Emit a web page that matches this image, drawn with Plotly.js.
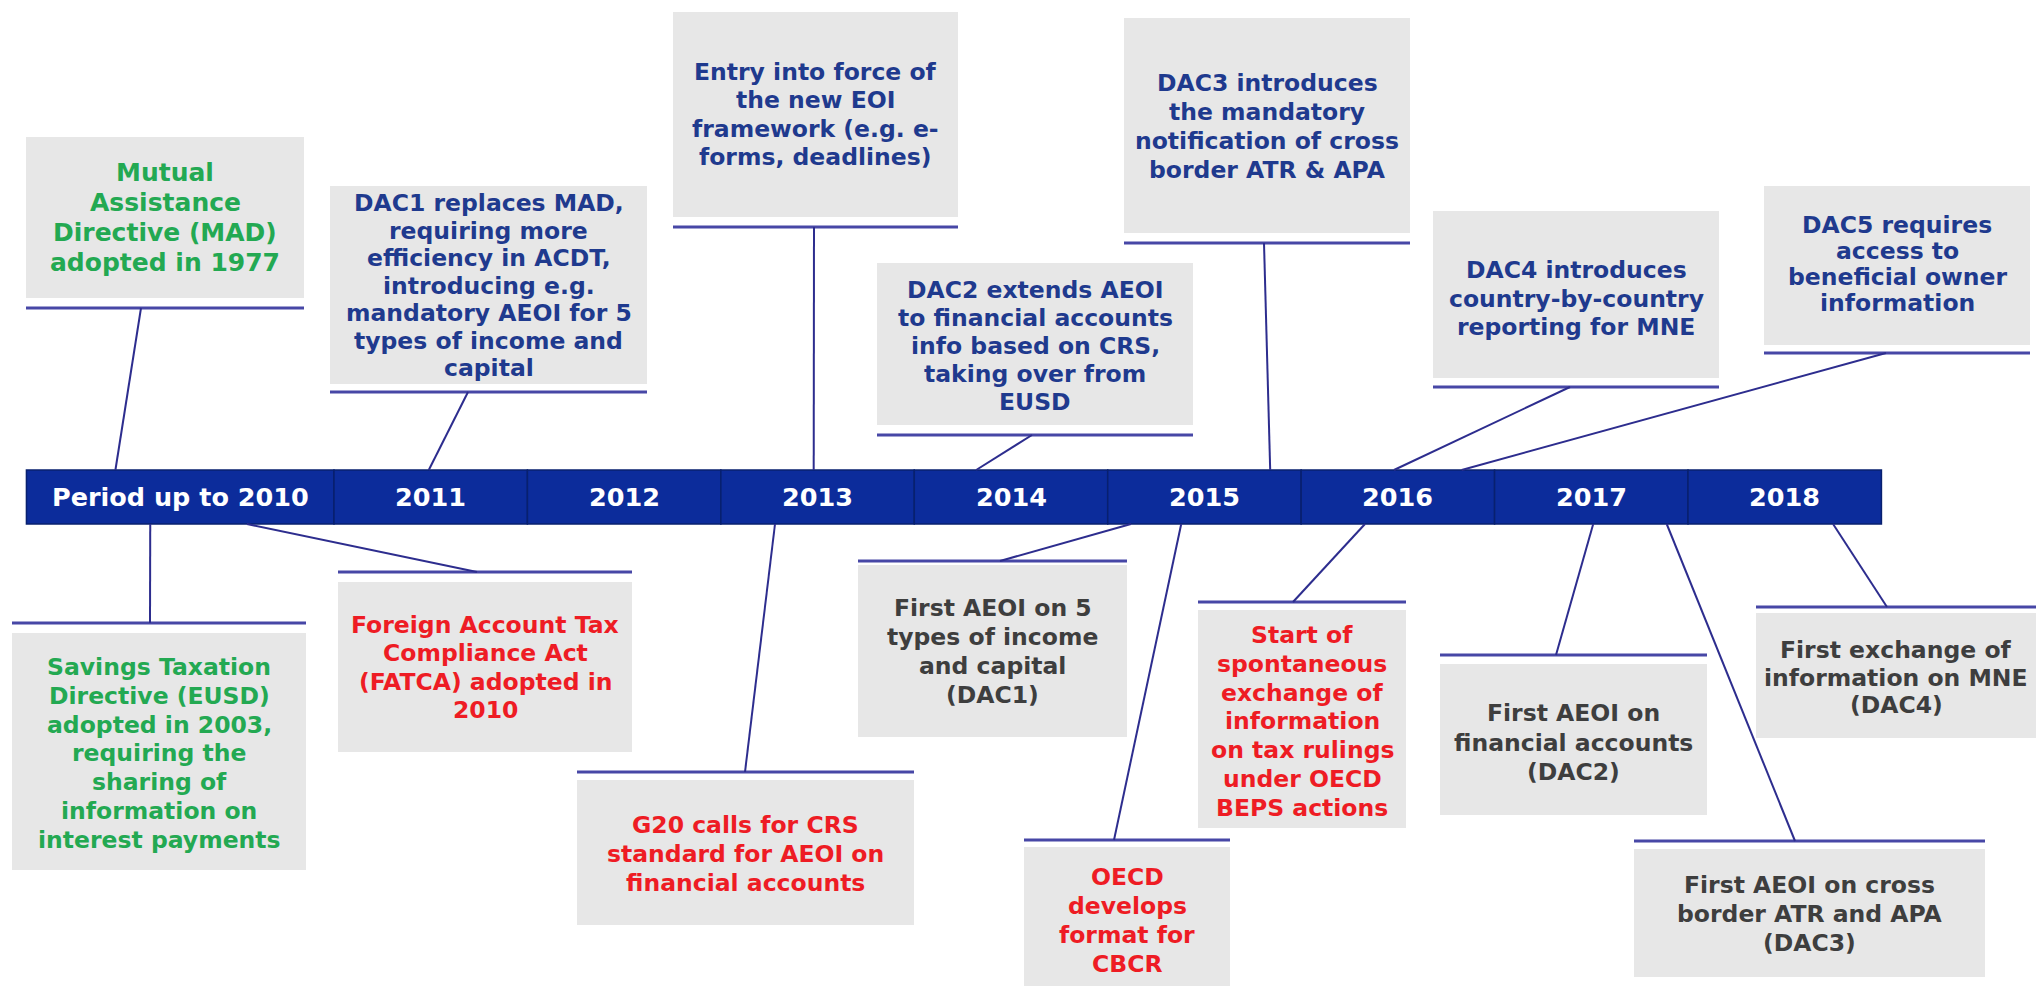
<!DOCTYPE html>
<html>
<head>
<meta charset="utf-8">
<script src="https://cdn.plot.ly/plotly-3.0.1.min.js"></script>
<style>
html,body{margin:0;padding:0;background:#fff;overflow:hidden}
#chart{width:2036px;height:986px}
</style>
</head>
<body>
<div id="chart"></div>
<script>
// ------------------------------------------------------------------
// DATA
// ------------------------------------------------------------------
// Timeline segments (in years)
const periodLabels = ['Period up to 2010','2011','2012','2013','2014','2015','2016','2017','2018'];
const periodStart  = [2008.91, 2010.5, 2011.5, 2012.5, 2013.5, 2014.5, 2015.5, 2016.5, 2017.5];
const periodEnd    = [2010.5, 2011.5, 2012.5, 2013.5, 2014.5, 2015.5, 2016.5, 2017.5, 2018.5];

// Events (text lines separated by \n)
const eventText = [
  'Mutual\nAssistance\nDirective (MAD)\nadopted in 1977',
  'DAC1 replaces MAD,\nrequiring more\nefficiency in ACDT,\nintroducing e.g.\nmandatory AEOI for 5\ntypes of income and\ncapital',
  'Entry into force of\nthe new EOI\nframework (e.g. e-\nforms, deadlines)',
  'DAC2 extends AEOI\nto financial accounts\ninfo based on CRS,\ntaking over from\nEUSD',
  'DAC3 introduces\nthe mandatory\nnotification of cross\nborder ATR & APA',
  'DAC4 introduces\ncountry-by-country\nreporting for MNE',
  'DAC5 requires\naccess to\nbeneficial owner\ninformation',
  'Savings Taxation\nDirective (EUSD)\nadopted in 2003,\nrequiring the\nsharing of\ninformation on\ninterest payments',
  'Foreign Account Tax\nCompliance Act\n(FATCA) adopted in\n2010',
  'G20 calls for CRS\nstandard for AEOI on\nfinancial accounts',
  'First AEOI on 5\ntypes of income\nand capital\n(DAC1)',
  'OECD\ndevelops\nformat for\nCBCR',
  'Start of\nspontaneous\nexchange of\ninformation\non tax rulings\nunder OECD\nBEPS actions',
  'First AEOI on\nfinancial accounts\n(DAC2)',
  'First AEOI on cross\nborder ATR and APA\n(DAC3)',
  'First exchange of\ninformation on MNE\n(DAC4)'
];
// Point on the timeline each event is attached to (year units)
const eventDate  = [2009.37, 2010.99, 2012.98, 2013.82, 2015.34, 2015.98, 2016.33,
                    2009.55, 2010.05, 2012.78, 2014.62, 2014.88, 2015.83, 2017.01, 2017.39, 2018.25];
// Kind of event (drives the text colour)
const eventKind  = ['early','dac','dac','dac','dac','dac','dac',
                    'early','intl','intl','implement','intl','intl','implement','implement','implement'];

// ------------------------------------------------------------------
// LAYOUT / STYLE (pixel geometry of the call-out boxes)
// ------------------------------------------------------------------
const W = 2036, H = 986;
const X_RANGE = [2008.7733, 2019.2991];
const BAR_TOP = 470, BAR_H = 54;
const kindColor = {early:'#23a952', dac:'#1f3a8e', intl:'#ee1c24', implement:'#3e3e3e'};
// [x0, x1, y0, y1, ruleY, anchorX, firstLineY, lineStep, fontSize, side]
const boxGeom = [
  [26, 304, 137, 298, 308, 141, 172, 30, 25, 'up'],
  [330, 647, 186, 384, 392, 468, 203, 27.5, 23.5, 'up'],
  [673, 958, 12, 217, 227, 814, 72, 28.3, 23.5, 'up'],
  [877, 1193, 263, 425, 435, 1032, 290, 28, 23.5, 'up'],
  [1124, 1410, 18, 233, 243, 1264, 83, 29, 23.5, 'up'],
  [1433, 1719, 211, 378, 387, 1570, 270, 28.5, 23.5, 'up'],
  [1764, 2030, 186, 345, 353, 1886, 225, 26, 23.5, 'up'],
  [12, 306, 633, 870, 623, 150, 667, 28.8, 23.5, 'down'],
  [338, 632, 582, 752, 572, 477, 625, 28.3, 23.5, 'down'],
  [577, 914, 780, 925, 772, 745, 825, 29, 23.5, 'down'],
  [858, 1127, 565, 737, 561, 1000, 608, 29, 23.5, 'down'],
  [1024, 1230, 847, 986, 840, 1114, 877, 29, 23.5, 'down'],
  [1198, 1406, 610, 828, 602, 1293, 635, 28.8, 23.5, 'down'],
  [1440, 1707, 664, 815, 655, 1556, 713, 29.5, 23.5, 'down'],
  [1634, 1985, 849, 977, 841, 1795, 885, 29, 23.5, 'down'],
  [1756, 2036, 613, 738, 607, 1887, 650, 27.5, 23.5, 'down']
];

const FONT = 'DejaVu Sans, Verdana, sans-serif';
const pxToYear = px => X_RANGE[0] + px / W * (X_RANGE[1] - X_RANGE[0]);

// ------------------------------------------------------------------
// BUILD
// ------------------------------------------------------------------
const barTrace = {
  type: 'bar',
  x: periodStart.map((s, i) => (s + periodEnd[i]) / 2),
  width: periodStart.map((s, i) => periodEnd[i] - s),
  y: periodStart.map(() => BAR_H),
  base: BAR_TOP,
  marker: {color: '#0c2c9b', line: {color: '#08206f', width: 1.5}},
  hoverinfo: 'skip',
  showlegend: false
};

const shapes = [];
const annotations = [];

// year labels inside the bar
periodLabels.forEach((lab, i) => {
  annotations.push({
    x: (periodStart[i] + periodEnd[i]) / 2, y: BAR_TOP + BAR_H / 2,
    xref: 'x', yref: 'y', text: '<b>' + lab + '</b>', showarrow: false,
    xanchor: 'center', yanchor: 'middle',
    font: {family: FONT, size: 25.5, color: '#ffffff'}
  });
});

eventText.forEach((txt, i) => {
  const g = boxGeom[i];
  const [x0, x1, y0, y1, ruleY, anchorX, firstY, step, fs, side] = g;
  // box
  shapes.push({type: 'rect', xref: 'x', yref: 'y', x0: pxToYear(x0), x1: pxToYear(x1), y0: y0, y1: y1,
               fillcolor: '#e7e7e7', line: {width: 0}, layer: 'below'});
  // rule under / over the box
  shapes.push({type: 'line', xref: 'x', yref: 'y', x0: pxToYear(x0), x1: pxToYear(x1), y0: ruleY, y1: ruleY,
               line: {color: '#4747a6', width: 3}});
  // connector to the timeline
  shapes.push({type: 'line', xref: 'x', yref: 'y', x0: pxToYear(anchorX), y0: ruleY,
               x1: eventDate[i], y1: side === 'up' ? BAR_TOP : BAR_TOP + BAR_H,
               line: {color: '#2d2d8e', width: 2}});
  // text, one line per annotation to control line spacing
  const cx = pxToYear((x0 + x1) / 2);
  txt.split('\n').forEach((line, k) => {
    annotations.push({
      x: cx, y: firstY + k * step, xref: 'x', yref: 'y',
      text: '<b>' + line + '</b>', showarrow: false,
      xanchor: 'center', yanchor: 'middle',
      font: {family: FONT, size: fs, color: kindColor[eventKind[i]]}
    });
  });
});

const layout = {
  width: W, height: H,
  margin: {l: 0, r: 0, t: 0, b: 0, pad: 0},
  paper_bgcolor: '#ffffff', plot_bgcolor: '#ffffff',
  xaxis: {range: X_RANGE, visible: false, fixedrange: true},
  yaxis: {range: [H, 0], visible: false, fixedrange: true},
  bargap: 0,
  shapes: shapes,
  annotations: annotations,
  showlegend: false
};

Plotly.newPlot('chart', [barTrace], layout, {staticPlot: true, displayModeBar: false});
</script>
</body>
</html>
